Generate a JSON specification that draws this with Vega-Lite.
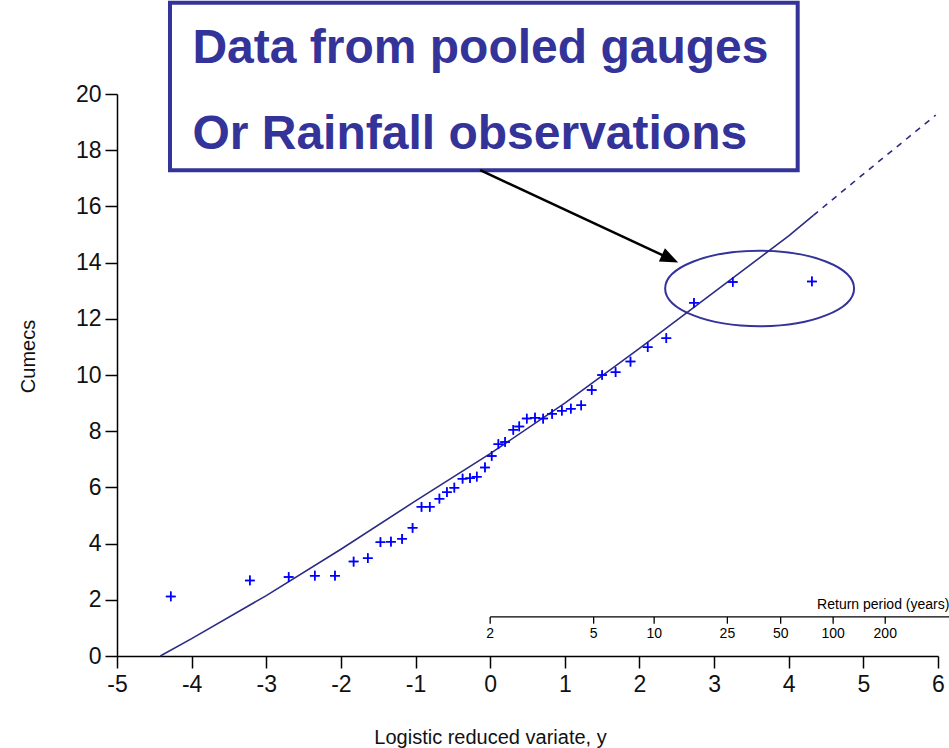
{
  "$schema": "https://vega.github.io/schema/vega-lite/v6.json",
  "width": 821,
  "height": 562,
  "autosize": "none",
  "padding": {"left": 117, "top": 94, "right": 11, "bottom": 92},
  "background": "white",
  "config": {"view": {"stroke": null}, "font": "Liberation Sans"},
  "datasets": {
    "obs": [
      {"yv": -4.28, "q": 2.12}, {"yv": -3.22, "q": 2.69}, {"yv": -2.70, "q": 2.81},
      {"yv": -2.35, "q": 2.86}, {"yv": -2.08, "q": 2.86}, {"yv": -1.83, "q": 3.36},
      {"yv": -1.64, "q": 3.48}, {"yv": -1.47, "q": 4.05}, {"yv": -1.33, "q": 4.07},
      {"yv": -1.18, "q": 4.17}, {"yv": -1.04, "q": 4.56}, {"yv": -0.92, "q": 5.31},
      {"yv": -0.81, "q": 5.31}, {"yv": -0.68, "q": 5.6}, {"yv": -0.58, "q": 5.83},
      {"yv": -0.48, "q": 5.99}, {"yv": -0.37, "q": 6.31}, {"yv": -0.27, "q": 6.33},
      {"yv": -0.18, "q": 6.38}, {"yv": -0.07, "q": 6.71}, {"yv": 0.02, "q": 7.12},
      {"yv": 0.11, "q": 7.54}, {"yv": 0.20, "q": 7.62}, {"yv": 0.31, "q": 8.05},
      {"yv": 0.39, "q": 8.17}, {"yv": 0.49, "q": 8.45}, {"yv": 0.60, "q": 8.48},
      {"yv": 0.71, "q": 8.45}, {"yv": 0.83, "q": 8.62}, {"yv": 0.96, "q": 8.73},
      {"yv": 1.08, "q": 8.8}, {"yv": 1.22, "q": 8.92}, {"yv": 1.36, "q": 9.47},
      {"yv": 1.50, "q": 10.0}, {"yv": 1.68, "q": 10.1}, {"yv": 1.88, "q": 10.48},
      {"yv": 2.11, "q": 10.99}, {"yv": 2.36, "q": 11.31}, {"yv": 2.73, "q": 12.57},
      {"yv": 3.25, "q": 13.31}, {"yv": 4.31, "q": 13.33}
    ],
    "fitSolid": [
      {"yv": -4.42, "q": 0}, {"yv": -4, "q": 0.62}, {"yv": -3, "q": 2.15},
      {"yv": -2, "q": 3.8}, {"yv": -1, "q": 5.52}, {"yv": 0, "q": 7.2},
      {"yv": 1, "q": 9.0}, {"yv": 2, "q": 10.95}, {"yv": 3, "q": 12.95},
      {"yv": 4, "q": 14.95}, {"yv": 4.33, "q": 15.68}
    ],
    "fitDash": [
      {"yv": 4.33, "q": 15.68}, {"yv": 5, "q": 17.15}, {"yv": 5.97, "q": 19.25}
    ],
    "rp": [
      {"T": "2", "yv": 0}, {"T": "5", "yv": 1.386}, {"T": "10", "yv": 2.197},
      {"T": "25", "yv": 3.178}, {"T": "50", "yv": 3.892}, {"T": "100", "yv": 4.595},
      {"T": "200", "yv": 5.293}
    ],
    "rpLine": [{"x1": 0, "x2": 6.2, "q": 1.39}],
    "rpTitle": [{"yv": 4.38, "q": 1.82, "label": "Return period (years)"}],
    "box": [{"x1": -4.29, "x2": 4.12, "q1": 23.25, "q2": 17.29}],
    "boxText": [
      {"yv": -3.99, "q": 21.1, "label": "Data from pooled gauges"},
      {"yv": -3.99, "q": 18.05, "label": "Or Rainfall observations"}
    ],
    "arrow": [{"x1": -0.134, "q1": 17.29, "x2": 2.41, "q2": 14.14}],
    "ellipse": [{"yv": 3.61, "q": 13.08}]
  },
  "layer": [
    {
      "data": {"name": "obs"},
      "mark": {"type": "point", "shape": "M -1 0 L 1 0 M 0 -1 L 0 1", "filled": false, "stroke": "#0000ff", "strokeWidth": 1.5, "size": 95, "opacity": 1},
      "encoding": {
        "x": {
          "field": "yv", "type": "quantitative",
          "scale": {"domain": [-5, 6], "nice": false, "zero": false},
          "axis": {
            "values": [-5, -4, -3, -2, -1, 0, 1, 2, 3, 4, 5, 6],
            "labelExpr": "'' + datum.value",
            "title": "Logistic reduced variate, y",
            "titleFontSize": 20, "titleFontWeight": "normal", "titleColor": "#111",
            "titleX": 373, "titlePadding": 31,
            "labelFontSize": 23, "labelColor": "#111", "labelPadding": 5,
            "tickSize": 12, "tickWidth": 1.5, "tickColor": "black",
            "domainColor": "black", "domainWidth": 1.5, "grid": false, "labelFlush": false, "labelOverlap": false
          }
        },
        "y": {
          "field": "q", "type": "quantitative",
          "scale": {"domain": [0, 20], "nice": false, "zero": true},
          "axis": {
            "values": [0, 2, 4, 6, 8, 10, 12, 14, 16, 18, 20],
            "title": "Cumecs",
            "titleFontSize": 20, "titleFontWeight": "normal", "titleColor": "#111",
            "titleX": -89, "titleY": 262, "titleBaseline": "middle",
            "labelFontSize": 23, "labelColor": "#111", "labelPadding": 4,
            "tickSize": 12, "tickWidth": 1.5, "tickColor": "black",
            "domainColor": "black", "domainWidth": 1.5, "grid": false, "labelFlush": false, "labelOverlap": false
          }
        }
      }
    },
    {
      "data": {"name": "box"},
      "mark": {"type": "rect", "fill": "white", "stroke": "#333399", "strokeWidth": 4},
      "encoding": {
        "x": {"field": "x1", "type": "quantitative"},
        "x2": {"field": "x2"},
        "y": {"field": "q1", "type": "quantitative"},
        "y2": {"field": "q2"}
      }
    },
    {
      "data": {"name": "boxText"},
      "mark": {"type": "text", "align": "left", "baseline": "alphabetic", "fontSize": 48, "fontWeight": "bold", "color": "#333399", "font": "Liberation Sans"},
      "encoding": {
        "x": {"field": "yv", "type": "quantitative"},
        "y": {"field": "q", "type": "quantitative"},
        "text": {"field": "label"}
      }
    },
    {
      "data": {"name": "arrow"},
      "mark": {"type": "rule", "color": "black", "strokeWidth": 2.5},
      "encoding": {
        "x": {"field": "x1", "type": "quantitative"},
        "x2": {"field": "x2"},
        "y": {"field": "q1", "type": "quantitative"},
        "y2": {"field": "q2"}
      }
    },
    {
      "data": {"name": "arrow"},
      "mark": {"type": "point", "shape": "M 1 0 L -1 -0.8 L -1 0.8 Z", "filled": true, "color": "black", "size": 324, "angle": 25, "opacity": 1},
      "encoding": {
        "x": {"field": "x2", "type": "quantitative"},
        "y": {"field": "q2", "type": "quantitative"}
      }
    },
    {
      "data": {"name": "ellipse"},
      "mark": {"type": "point", "shape": "M -1 0 A 1 0.4 0 1 1 1 0 A 1 0.4 0 1 1 -1 0 Z", "filled": false, "stroke": "#333399", "strokeWidth": 2, "size": 35700, "opacity": 1},
      "encoding": {
        "x": {"field": "yv", "type": "quantitative"},
        "y": {"field": "q", "type": "quantitative"}
      }
    },
    {
      "data": {"name": "rpLine"},
      "mark": {"type": "rule", "color": "black", "strokeWidth": 1.3},
      "encoding": {
        "x": {"field": "x1", "type": "quantitative"},
        "x2": {"field": "x2"},
        "y": {"field": "q", "type": "quantitative"}
      }
    },
    {
      "data": {"name": "rp"},
      "mark": {"type": "rule", "color": "black", "strokeWidth": 1.3},
      "encoding": {
        "x": {"field": "yv", "type": "quantitative"},
        "y": {"datum": 1.39, "type": "quantitative"},
        "y2": {"datum": 1.15}
      }
    },
    {
      "data": {"name": "rp"},
      "mark": {"type": "text", "fontSize": 14, "baseline": "middle", "align": "center", "color": "black"},
      "encoding": {
        "x": {"field": "yv", "type": "quantitative"},
        "y": {"datum": 0.8, "type": "quantitative"},
        "text": {"field": "T"}
      }
    },
    {
      "data": {"name": "rpTitle"},
      "mark": {"type": "text", "fontSize": 14, "baseline": "middle", "align": "left", "color": "black"},
      "encoding": {
        "x": {"field": "yv", "type": "quantitative"},
        "y": {"field": "q", "type": "quantitative"},
        "text": {"field": "label"}
      }
    },
    {
      "data": {"name": "fitSolid"},
      "mark": {"type": "line", "color": "#2b2b85", "strokeWidth": 1.6},
      "encoding": {
        "x": {"field": "yv", "type": "quantitative"},
        "y": {"field": "q", "type": "quantitative"}
      }
    },
    {
      "data": {"name": "fitDash"},
      "mark": {"type": "line", "color": "#2b2b85", "strokeWidth": 1.6, "strokeDash": [6, 6]},
      "encoding": {
        "x": {"field": "yv", "type": "quantitative"},
        "y": {"field": "q", "type": "quantitative"}
      }
    },
    {
      "data": {"name": "obs"},
      "mark": {"type": "point", "shape": "M -1 0 L 1 0 M 0 -1 L 0 1", "filled": false, "stroke": "#0000ff", "strokeWidth": 1.5, "size": 95, "opacity": 1},
      "encoding": {
        "x": {"field": "yv", "type": "quantitative"},
        "y": {"field": "q", "type": "quantitative"}
      }
    }
  ]
}
